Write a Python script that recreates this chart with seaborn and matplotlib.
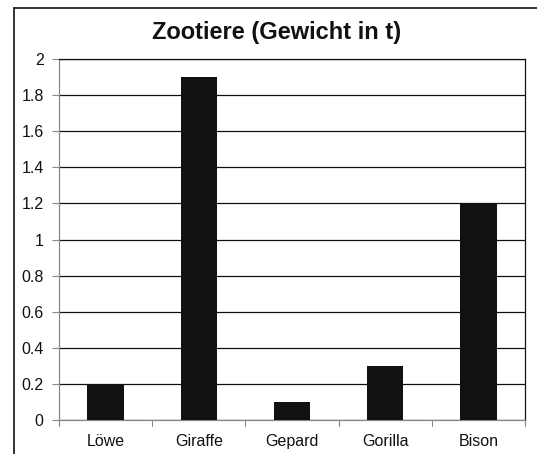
import matplotlib
matplotlib.use("Agg")
import matplotlib.pyplot as plt
import seaborn as sns
import pandas as pd
from matplotlib.lines import Line2D

categories = ["Löwe", "Giraffe", "Gepard", "Gorilla", "Bison"]
values = [0.2, 1.9, 0.1, 0.3, 1.2]
yticks = [0, 0.2, 0.4, 0.6, 0.8, 1, 1.2, 1.4, 1.6, 1.8, 2]
ytick_labels = ["0", "0.2", "0.4", "0.6", "0.8", "1", "1.2", "1.4", "1.6", "1.8", "2"]

sns.set_style("white")
plt.rcParams["font.family"] = ["Liberation Sans", "DejaVu Sans"]

df = pd.DataFrame({"Tier": categories, "Gewicht": values})

fig = plt.figure(figsize=(5.37, 4.54), dpi=100)
ax = fig.add_axes([59/537, 34/454, 466/537, 361/454])
sns.barplot(data=df, x="Tier", y="Gewicht", color="#111111", width=0.39,
            saturation=1, ax=ax, zorder=3, edgecolor="none", linewidth=0)
ax.set_ylim(0, 2)
ax.set_xlim(-0.5, 4.5)
ax.set_yticks(yticks)
ax.set_yticklabels(ytick_labels, fontsize=11.5, color="#111111")
ax.set_xlabel("")
ax.set_ylabel("")
ax.tick_params(axis="x", labelsize=11.5, labelcolor="#111111", length=0, pad=10)
ax.tick_params(axis="y", length=5, width=0.8, color="#888888", left=True, pad=6)
ax.yaxis.grid(True, color="#111111", linewidth=0.9)
ax.set_axisbelow(True)
for s in ax.spines.values():
    s.set_visible(True)
    s.set_color("#111111")
    s.set_linewidth(0.9)
ax.spines["left"].set_color("#888888")
ax.spines["bottom"].set_color("#888888")
for b in [-0.5, 0.5, 1.5, 2.5, 3.5, 4.5]:
    ax.plot([b, b], [0, -0.035], color="#888888", lw=0.8, clip_on=False)

fig.text(277/537, 1 - 32/454, "Zootiere (Gewicht in t)", ha="center", va="center",
         fontsize=17, fontweight="bold", color="#111111")

fig.add_artist(Line2D([14/537, 1], [1 - 7.5/454, 1 - 7.5/454], color="#111111", lw=1.2, transform=fig.transFigure))
fig.add_artist(Line2D([14/537, 14/537], [0, 1 - 7.5/454], color="#111111", lw=1.2, transform=fig.transFigure))

fig.savefig("out.png", dpi=100)
